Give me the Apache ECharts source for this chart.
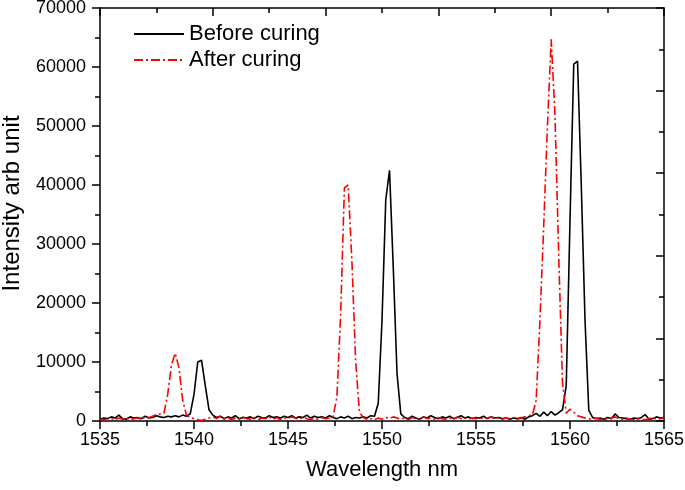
<!DOCTYPE html>
<html>
<head>
<meta charset="utf-8">
<script src="https://cdn.jsdelivr.net/npm/echarts@6/dist/echarts.min.js"></script>
<style>
  html, body { margin: 0; padding: 0; background: #fff; }
  #chart { width: 685px; height: 490px; }
</style>
</head>
<body>
<div id="chart"></div>
<script>
// spectra sampled every 0.2 nm starting at 1535 nm
var wlStart = 1535;
var wlStep = 0.2;

var beforeCuring = [
    300, 500, 400, 700, 500, 1000, 400, 300, 700, 500,
    600, 400, 800, 500, 600, 900, 700, 600, 800, 700,
    900, 700, 1000, 800, 1200, 4500, 10000, 10300, 6000, 1900,
    1000, 600, 800, 400, 700, 500, 900, 400, 600, 500,
    700, 400, 800, 600, 500, 900, 600, 700, 500, 800,
    600, 900, 500, 700, 600, 1000, 500, 800, 600, 700,
    500, 900, 600, 400, 700, 500, 800, 400, 600, 500,
    700, 500, 900, 800, 3000, 17000, 37500, 42500, 26000, 8000,
    1200, 600, 400, 800, 500, 300, 700, 500, 900, 600,
    400, 700, 500, 800, 400, 600, 900, 500, 700, 400,
    600, 500, 800, 400, 700, 500, 600, 400, 500, 300,
    500, 400, 600, 300, 700, 900, 1300, 800, 1500, 900,
    1600, 1000, 1400, 1900, 6000, 34000, 60500, 61000, 40000, 17000,
    1800, 600, 400, 500, 300, 600, 400, 1200, 600, 500,
    400, 300, 500, 400, 600, 1100, 300, 400, 700, 500, 600
];

var afterCuring = [
    200, 300, 100, 400, 200, 500, 300, 600, 200, 400,
    500, 300, 700, 600, 800, 1100, 1200, 1300, 4500, 9500,
    11500, 9000, 3500, 1000, 600, 400, 200, 100, 300, 500,
    700, 400, 800, 300, 600, 200, 500, 300, 700, 400,
    300, 600, 200, 500, 400, 700, 300, 600, 200, 500,
    400, 700, 500, 300, 600, 400, 200, 500, 300, 600,
    400, 500, 800, 4000, 18000, 39500, 40000, 27000, 10000, 1500,
    600, 300, 400, 200, 500, 300, 600, 400, 700, 500,
    300, 500, 200, 600, 400, 300, 700, 400, 500, 300,
    600, 400, 200, 500, 300, 700, 400, 600, 300, 500,
    400, 600, 300, 500, 700, 400, 600, 300, 500, 400,
    600, 300, 500, 700, 900, 1000, 3500, 17000, 33000, 50000,
    64700, 52000, 28000, 6500, 1300, 2000, 1500, 900, 700, 500,
    400, 300, 500, 200, 400, 300, 500, 700, 400, 300,
    500, 300, 200, 400, 300, 200, 400, 600, 300, 400, 500
];

function toPairs(values) {
    return values.map(function (v, i) {
        return [+(wlStart + i * wlStep).toFixed(1), v];
    });
}

function plain(v) {
    return String(v);
}

var font = 'Liberation Sans, Arial, sans-serif';
var axisStroke = { color: '#000', width: 1.5 };

var chartDom = document.getElementById('chart');
var myChart = echarts.init(chartDom);
var option;

option = {
    animation: false,
    backgroundColor: '#fff',
    grid: {
        left: 100,
        right: 21,
        top: 8,
        bottom: 69,
        outerBoundsMode: 'none'
    },
    legend: {
        orient: 'vertical',
        left: 128,
        top: 18,
        itemWidth: 50,
        itemHeight: 14,
        itemGap: 4,
        itemStyle: { opacity: 0 },
        textStyle: { fontFamily: font, fontSize: 22, color: '#000' },
        data: ['Before curing', 'After curing']
    },
    xAxis: [{
        type: 'value',
        min: 1535,
        max: 1565,
        interval: 5,
        name: 'Wavelength nm',
        nameLocation: 'middle',
        nameGap: 38,
        nameTextStyle: { fontFamily: font, fontSize: 22, color: '#000' },
        axisLine: { onZero: false, lineStyle: axisStroke },
        axisTick: { inside: false, length: 8, lineStyle: axisStroke },
        minorTick: { show: true, splitNumber: 2, length: 5, lineStyle: axisStroke },
        axisLabel: { fontFamily: font, fontSize: 18, color: '#000', margin: 10, formatter: plain },
        splitLine: { show: false }
    }, {
        type: 'value',
        position: 'top',
        min: 0,
        max: 5,
        interval: 1,
        axisLine: { onZero: false, lineStyle: axisStroke },
        axisTick: { inside: true, length: 8, lineStyle: axisStroke },
        minorTick: { show: true, splitNumber: 2, length: 5, lineStyle: axisStroke },
        axisLabel: { show: false },
        splitLine: { show: false }
    }],
    yAxis: [{
        type: 'value',
        min: 0,
        max: 70000,
        interval: 10000,
        name: 'Intensity arb unit',
        nameLocation: 'middle',
        nameGap: 76,
        nameTextStyle: { fontFamily: font, fontSize: 24, color: '#000', padding: [0, 0, 0, 22] },
        axisLine: { show: true, onZero: false, lineStyle: axisStroke },
        axisTick: { show: true, inside: false, length: 8, lineStyle: axisStroke },
        minorTick: { show: true, splitNumber: 2, length: 5, lineStyle: axisStroke },
        axisLabel: { fontFamily: font, fontSize: 18, color: '#000', margin: 14, formatter: plain },
        splitLine: { show: false }
    }, {
        type: 'value',
        position: 'right',
        min: 0,
        max: 5,
        interval: 1,
        axisLine: { show: true, onZero: false, lineStyle: axisStroke },
        axisTick: { show: true, inside: true, length: 8, lineStyle: axisStroke },
        minorTick: { show: true, splitNumber: 2, length: 5, lineStyle: axisStroke },
        axisLabel: { show: false },
        splitLine: { show: false }
    }],
    series: [{
        name: 'Before curing',
        type: 'line',
        xAxisIndex: 0,
        yAxisIndex: 0,
        symbol: 'none',
        color: '#000',
        lineStyle: { color: '#000', width: 1.6 },
        data: toPairs(beforeCuring)
    }, {
        name: 'After curing',
        type: 'line',
        xAxisIndex: 0,
        yAxisIndex: 0,
        symbol: 'none',
        color: '#ff0000',
        lineStyle: { color: '#ff0000', width: 1.6, type: [9, 3, 2, 3] },
        data: toPairs(afterCuring)
    }]
};
option && myChart.setOption(option);
</script>
</body>
</html>
